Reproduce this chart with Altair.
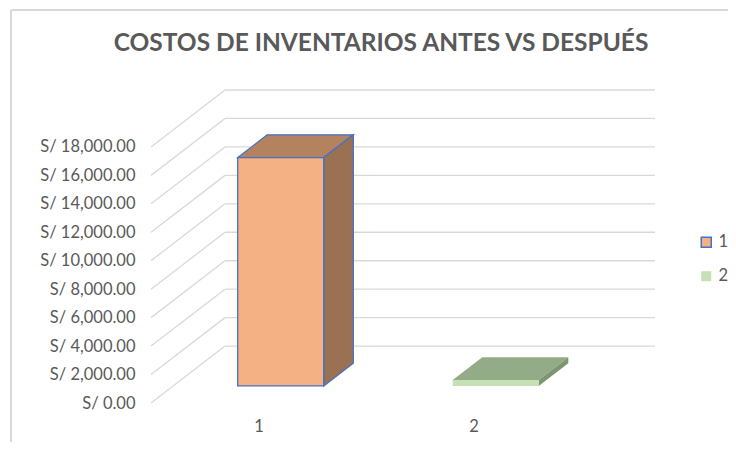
import altair as alt
import pandas as pd

# ---- data ----
categories = ["1", "2"]
values = [16050, 420]
tick_values = [0, 2000, 4000, 6000, 8000, 10000, 12000, 14000, 16000, 18000]
title_text = "COSTOS DE INVENTARIOS ANTES VS DESPUÉS"

# ---- styles ----
front_colors = ["#f4b183", "#c5e0b4"]
top_colors = ["#b5825f", "#93ab86"]
side_colors = ["#9a7152", "#7d9670"]
edge_colors = ["#4472c4", "transparent"]
GRID = "#d9d9d9"
TEXT = "#595959"
FONT = "Lato"

# 3-D projection constants (depth of the box in data units)
DX = 74 / 215          # depth along x, in category units
DY = 4000              # depth along y, in value units
BAR_W = 0.4            # bar width, category units
F0 = 0.3               # front of bar, fraction of depth
BD = 0.4               # bar depth, fraction of depth

front_rows, top_rows, side_rows = [], [], []
for i, (c, v) in enumerate(zip(categories, values)):
    x0 = i + 0.5 - BAR_W / 2 + F0 * DX
    x1 = x0 + BAR_W
    yb = F0 * DY
    yt = yb + v
    front_rows.append(dict(cat=c, x=x0, x2=x1, y=yb, y2=yt))
    for k in (0, 1):
        top_rows.append(dict(cat=c, x=x0 + k * BD * DX, x2=x1 + k * BD * DX,
                             y=yt + k * BD * DY, fill=top_colors[i], edge=edge_colors[i]))
        side_rows.append(dict(cat=c, x=x1 + k * BD * DX, y=yb + k * BD * DY,
                              y2=yt + k * BD * DY, fill=side_colors[i], edge=edge_colors[i]))

front_df = pd.DataFrame(front_rows)
top_df = pd.DataFrame(top_rows)
side_df = pd.DataFrame(side_rows)
back_df = pd.DataFrame({"v": tick_values})
back_df["yb"] = back_df["v"] + DY
back_df["xa"] = DX
back_df["xb"] = len(categories) + DX
back_df["x0"] = 0.0

x_scale = alt.Scale(domain=[0, len(categories) + DX], nice=False, zero=False)
y_scale = alt.Scale(domain=[0, 18000 + DY], nice=False, zero=False)

label_arr = "[" + ",".join("'%s'" % c for c in categories) + "]"
X_AX = alt.Axis(values=[i + 0.5 for i in range(len(categories))],
                labelExpr=label_arr + "[round(datum.value - 0.5)]",
                domain=False, ticks=False, grid=False, title=None,
                labelFont=FONT, labelFontSize=16.5, labelColor=TEXT, labelPadding=15)
Y_AX = alt.Axis(values=tick_values,
                labelExpr="'S/ ' + format(datum.value, ',.2f')",
                domain=False, ticks=False, grid=False, title=None,
                labelFont=FONT, labelFontSize=16.5, labelColor=TEXT, labelPadding=16)

back = alt.Chart(back_df).mark_rule(color=GRID, strokeWidth=1.3).encode(
    x=alt.X("xa:Q", scale=x_scale, axis=X_AX), x2="xb:Q",
    y=alt.Y("yb:Q", scale=y_scale, axis=Y_AX))

diag = alt.Chart(back_df).mark_rule(color=GRID, strokeWidth=1.3).encode(
    x=alt.X("x0:Q", scale=x_scale, axis=X_AX), x2="xa:Q",
    y=alt.Y("v:Q", scale=y_scale, axis=Y_AX), y2="yb:Q")

top = alt.Chart(top_df).mark_area(orient="horizontal", strokeWidth=1.3).encode(
    y=alt.Y("y:Q", scale=y_scale, axis=Y_AX),
    x=alt.X("x:Q", scale=x_scale, axis=X_AX), x2="x2:Q",
    fill=alt.Fill("fill:N", scale=None),
    stroke=alt.Stroke("edge:N", scale=None),
    detail="cat:N")

side = alt.Chart(side_df).mark_area(strokeWidth=1.3).encode(
    x=alt.X("x:Q", scale=x_scale, axis=X_AX),
    y=alt.Y("y:Q", scale=y_scale, axis=Y_AX), y2="y2:Q",
    fill=alt.Fill("fill:N", scale=None),
    stroke=alt.Stroke("edge:N", scale=None),
    detail="cat:N")

legend = alt.Legend(title=None, orient="none", legendX=547, legendY=144,
                    symbolType="square", symbolSize=100, symbolStrokeWidth=1.5,
                    labelFont=FONT, labelFontSize=16.5, labelColor=TEXT,
                    rowPadding=17, labelOffset=4)

front = alt.Chart(front_df).mark_rect(strokeWidth=1.3).encode(
    x=alt.X("x:Q", scale=x_scale, axis=X_AX), x2="x2:Q",
    y=alt.Y("y:Q", scale=y_scale, axis=Y_AX), y2="y2:Q",
    fill=alt.Fill("cat:N", scale=alt.Scale(domain=categories, range=front_colors), legend=legend),
    stroke=alt.Stroke("cat:N", scale=alt.Scale(domain=categories, range=edge_colors), legend=legend))

frame_df = pd.DataFrame({"k": [0]})
frame_top = alt.Chart(frame_df).mark_rule(color=GRID, strokeWidth=2).encode(
    x=alt.value(-140), x2=alt.value(600), y=alt.value(-80))
frame_left = alt.Chart(frame_df).mark_rule(color=GRID, strokeWidth=2).encode(
    x=alt.value(-140), y=alt.value(-80), y2=alt.value(360))

chart = alt.layer(frame_top, frame_left, back, diag, top, side, front).properties(
    width=504, height=313,
    autosize=alt.AutoSizeParams(type="none"),
    padding={"left": 143, "top": 82, "right": 73, "bottom": 39},
    background="white",
    title=alt.TitleParams(title_text, font=FONT, fontSize=24.5, fontWeight="bold",
                          color=TEXT, anchor="middle", dx=-22, dy=47, offset=0),
).configure_view(stroke=None)

chart.save("out.html", embed_options={"renderer": "svg", "actions": False})
